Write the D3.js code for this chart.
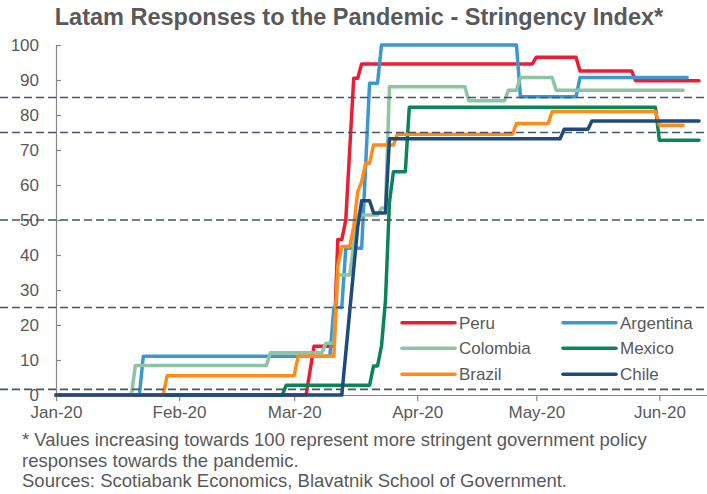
<!DOCTYPE html>
<html><head><meta charset="utf-8">
<script src="https://cdn.jsdelivr.net/npm/d3@7"></script>
<style>
html,body{margin:0;padding:0;background:#fff;}
svg{display:block;font-family:"Liberation Sans",Arial,sans-serif;}
</style></head>
<body><svg id="chart" width="707" height="494"></svg>
<script>
// ---- data ----
const titleText = "Latam Responses to the Pandemic - Stringency Index*";
const yTicks = [0,10,20,30,40,50,60,70,80,90,100];
const xTickDates = ["2020-01-01","2020-02-01","2020-03-01","2020-04-01","2020-05-01","2020-06-01"];
const xTickLabels = ["Jan-20","Feb-20","Mar-20","Apr-20","May-20","Jun-20"];
const refLevels = [85, 75, 50, 25, 1.6];
const seriesNames = ["Peru","Argentina","Colombia","Mexico","Brazil","Chile"];
const seriesColors = ["#EC1C34","#3D98D0","#8DC4A1","#0A8557","#FF8C1A","#1F4A7D"];

const peru = [["2020-01-01",0],["2020-03-04",0],["2020-03-06",13.9],["2020-03-11",13.9],["2020-03-12",44.4],["2020-03-13",44.4],["2020-03-14",50],["2020-03-16",90.5],["2020-03-17",90.5],["2020-03-18",94.6],["2020-04-30",94.6],["2020-05-01",96.5],["2020-05-11",96.5],["2020-05-12",92.6],["2020-05-25",92.6],["2020-05-26",89.8],["2020-06-11",89.8]];
const argentina = [["2020-01-01",0],["2020-01-22",0],["2020-01-23",11.1],["2020-03-10",11.1],["2020-03-11",25],["2020-03-13",25],["2020-03-14",41.9],["2020-03-18",41.9],["2020-03-20",89.1],["2020-03-22",89.1],["2020-03-23",100],["2020-04-26",100],["2020-04-27",85.2],["2020-05-11",85.2],["2020-05-12",90.7],["2020-06-08",90.7]];
const colombia = [["2020-01-01",0],["2020-01-20",0],["2020-01-21",8.4],["2020-02-23",8.4],["2020-02-24",12.1],["2020-03-08",12.1],["2020-03-09",14.8],["2020-03-11",14.8],["2020-03-12",34.3],["2020-03-15",34.3],["2020-03-17",51.4],["2020-03-22",51.4],["2020-03-23",53.4],["2020-03-24",53.4],["2020-03-25",88.1],["2020-04-13",88.1],["2020-04-14",84.1],["2020-04-23",84.1],["2020-04-24",87.1],["2020-04-26",87.1],["2020-04-27",90.7],["2020-05-05",90.7],["2020-05-06",87.1],["2020-06-07",87.1]];
const mexico = [["2020-01-01",0],["2020-02-27",0],["2020-02-28",2.8],["2020-03-20",2.8],["2020-03-21",8.3],["2020-03-22",8.3],["2020-03-23",14],["2020-03-24",27],["2020-03-25",55],["2020-03-26",63.8],["2020-03-29",63.8],["2020-03-30",82.2],["2020-05-31",82.2],["2020-06-01",72.8],["2020-06-11",72.8]];
const brazil = [["2020-01-01",0],["2020-01-28",0],["2020-01-29",5.5],["2020-03-01",5.5],["2020-03-02",11.1],["2020-03-11",11.1],["2020-03-12",37],["2020-03-13",42.4],["2020-03-15",42.4],["2020-03-16",48],["2020-03-17",58],["2020-03-18",61],["2020-03-19",66.2],["2020-03-20",66.2],["2020-03-21",71.4],["2020-03-26",71.4],["2020-03-27",74.5],["2020-04-25",74.5],["2020-04-26",77.6],["2020-05-04",77.6],["2020-05-05",81],["2020-05-31",81],["2020-06-01",77.1],["2020-06-07",77.1]];
const chile = [["2020-01-01",0],["2020-03-13",0],["2020-03-17",48],["2020-03-18",55.5],["2020-03-20",55.5],["2020-03-21",52],["2020-03-24",52],["2020-03-25",73.2],["2020-05-07",73.2],["2020-05-08",75.9],["2020-05-14",75.9],["2020-05-15",78.3],["2020-06-11",78.3]];
const seriesData = [peru, argentina, colombia, mexico, brazil, chile];

const footnotes = ["* Values increasing towards 100 represent more stringent government policy",
  "responses towards the pandemic.",
  "Sources: Scotiabank Economics, Blavatnik School of Government."];

// ---- drawing ----
const parse = d3.utcParse("%Y-%m-%d");
const svg = d3.select("#chart");
const textColor = "#595959";
const x = d3.scaleUtc().domain([parse("2020-01-01"), parse("2020-06-13")]).range([56, 707]);
const y = d3.scaleLinear().domain([0, 100]).range([395, 45]);

svg.append("text").attr("x", 359).attr("y", 25).attr("text-anchor","middle")
  .attr("font-size", 23.5).attr("font-weight","bold").attr("fill", textColor).text(titleText);

// y axis
const yAxis = svg.append("g").attr("transform","translate(56,0)")
  .call(d3.axisRight(y).tickValues(yTicks).tickSize(5).tickFormat(""));
yAxis.select(".domain").attr("stroke","#868686").attr("stroke-width",1.2);
yAxis.selectAll(".tick line").attr("stroke","#868686").attr("stroke-width",1.2);
svg.append("g").selectAll("text").data(yTicks).join("text")
  .attr("x", 39).attr("y", d => y(d)).attr("dy","0.35em").attr("text-anchor","end")
  .attr("font-size",17).attr("fill",textColor).text(d => d);

// x axis
const xAxis = svg.append("g").attr("transform","translate(0,395)")
  .call(d3.axisBottom(x).tickValues(xTickDates.map(parse)).tickSize(6).tickSizeOuter(0)
    .tickFormat((d,i) => xTickLabels[i]));
xAxis.select(".domain").attr("stroke","#868686").attr("stroke-width",1.2);
xAxis.selectAll(".tick line").attr("stroke","#868686").attr("stroke-width",1.2);
xAxis.selectAll(".tick text").attr("font-size",17).attr("fill",textColor)
  .attr("font-family","Liberation Sans, Arial, sans-serif").attr("y", 11);

// series
const line = d3.line().x(d => x(parse(d[0]))).y(d => y(d[1]));
svg.append("g").selectAll("path").data(seriesData).join("path")
  .attr("d", line).attr("fill","none")
  .attr("stroke", (d,i) => seriesColors[i]).attr("stroke-width", 3.5)
  .attr("stroke-linejoin","round").attr("stroke-linecap","round");

// reference dashed lines
svg.append("g").selectAll("line").data(refLevels).join("line")
  .attr("x1", 0).attr("x2", 707).attr("y1", d => y(d)).attr("y2", d => y(d))
  .attr("stroke","#44546A").attr("stroke-width",1.6).attr("stroke-dasharray","8,4");

// legend
const legendCols = [402, 563];
const legendRows = [322.7, 348.3, 374.3];
const lg = svg.append("g").selectAll("g").data(seriesNames).join("g")
  .attr("transform", (d,i) => `translate(${legendCols[i%2]},${legendRows[Math.floor(i/2)]})`);
lg.append("line").attr("x1",0).attr("x2",53).attr("stroke",(d,i)=>seriesColors[i])
  .attr("stroke-width",3.5).attr("stroke-linecap","round");
lg.append("text").attr("x",57).attr("dy","0.35em").attr("font-size",17).attr("fill",textColor).text(d=>d);

// footnotes
svg.append("g").selectAll("text").data(footnotes).join("text")
  .attr("x", 22).attr("y", (d,i) => 446 + i*20.5).attr("font-size",18.5).attr("fill",textColor).text(d=>d);
</script></body></html>
